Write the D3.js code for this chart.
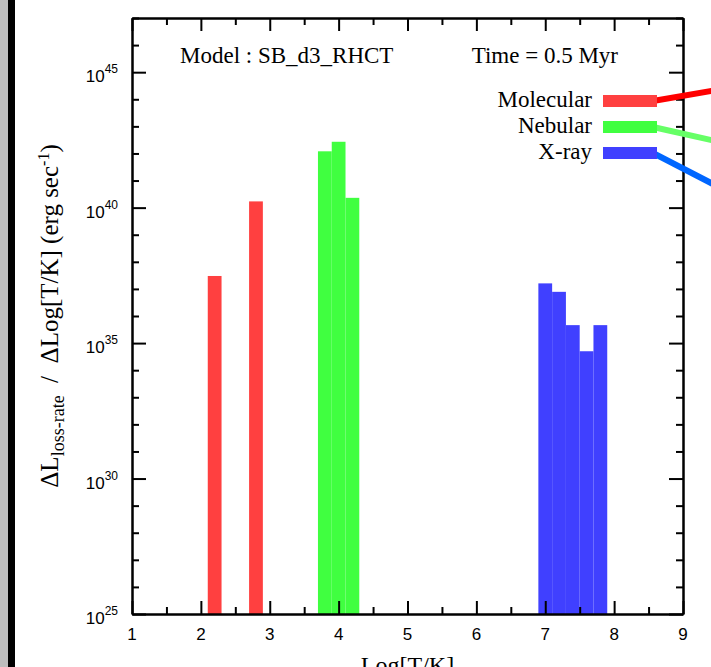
<!DOCTYPE html>
<html lang="en">

<head>
  <meta charset="UTF-8">
  <title>Loss rate histogram</title>
  <script src="https://d3js.org/d3.v7.min.js"></script>
  <style>
    body { margin: 0; background: #fff; }
    svg { display: block; }
  </style>
</head>

<body>
  <svg id='loss-rate' width=711 height=667></svg>

  <script>
    // data (bin centers in log T, height in erg/s)
    const molecularT = [2.2, 2.8];
    const molecularL = [3.0e37, 1.7e40];
    const nebularT = [3.8, 4.0, 4.2];
    const nebularL = [1.2e42, 2.7e42, 2.3e40];
    const xrayT = [7.0, 7.2, 7.4, 7.6, 7.8];
    const xrayL = [1.6e37, 7.8e36, 4.6e35, 5.0e34, 4.6e35];
    const binWidth = 0.2;

    const seriesNames = ['Molecular', 'Nebular', 'X-ray'];
    const seriesColors = ['#ff4040', '#40ff40', '#4040ff'];
    const connectorColors = ['#ff0000', '#66ff66', '#0066ff'];

    const xTicks = [1, 2, 3, 4, 5, 6, 7, 8, 9];
    const yMajorExp = [25, 30, 35, 40, 45];

    //setting up the svg
    const svg = d3.select('svg#loss-rate');
    const width = +svg.attr('width');
    const height = +svg.attr('height');
    const margin = { top: 18, right: 28, bottom: 53, left: 132 };
    const chartWidth = width - margin.left - margin.right;
    const chartHeight = height - margin.top - margin.bottom;

    // the grey/black strip down the left edge
    svg.append('rect').attr('x', 0).attr('y', 0).attr('width', 8).attr('height', height).attr('fill', '#bdbdbd');
    svg.append('rect').attr('x', 8).attr('y', 0).attr('width', 7).attr('height', height).attr('fill', '#000');

    const chartArea = svg.append('g')
      .attr('transform', 'translate(' + margin.left + ', ' + margin.top + ')');
    const annotations = svg.append('g').attr('id', 'annotations');

    //scales
    const xScale = d3.scaleLinear().domain([1, 9]).range([0, chartWidth]);
    const yScale = d3.scaleLog().domain([1e25, 1e47]).range([chartHeight, 0]);

    //bars
    const series = [
      { t: molecularT, l: molecularL },
      { t: nebularT, l: nebularL },
      { t: xrayT, l: xrayL }
    ];
    series.forEach((s, i) => {
      const rows = s.t.map((t, j) => ({ t: t, l: s.l[j] }));
      chartArea.append('g').selectAll('rect')
        .data(rows)
        .join('rect')
        .attr('x', d => xScale(d.t - binWidth / 2))
        .attr('width', d => xScale(d.t + binWidth / 2) - xScale(d.t - binWidth / 2))
        .attr('y', d => yScale(d.l))
        .attr('height', d => yScale(1e25) - yScale(d.l))
        .attr('fill', seriesColors[i]);
    });

    //axes, all ticks point inward
    const halfTicks = d3.range(1.5, 9, 1);
    const decadeTicks = d3.range(25, 48).filter(e => e % 5 != 0).map(e => Math.pow(10, e));
    const majorY = yMajorExp.map(e => Math.pow(10, e));

    function styleAxis(g) {
      g.selectAll('path').attr('stroke-width', 2);
      g.selectAll('line').attr('stroke-width', 2);
      g.selectAll('text').remove();
    }

    chartArea.append('g').attr('transform', 'translate(0,' + chartHeight + ')')
      .call(d3.axisBottom(xScale).tickValues(xTicks).tickSize(-13).tickSizeOuter(0)).call(styleAxis);
    chartArea.append('g').attr('transform', 'translate(0,' + chartHeight + ')')
      .call(d3.axisBottom(xScale).tickValues(halfTicks).tickSize(-7).tickSizeOuter(0)).call(styleAxis);
    chartArea.append('g')
      .call(d3.axisTop(xScale).tickValues(xTicks).tickSize(-13).tickSizeOuter(0)).call(styleAxis);
    chartArea.append('g')
      .call(d3.axisTop(xScale).tickValues(halfTicks).tickSize(-7).tickSizeOuter(0)).call(styleAxis);

    chartArea.append('g')
      .call(d3.axisLeft(yScale).tickValues(majorY).tickSize(-14).tickSizeOuter(0)).call(styleAxis);
    chartArea.append('g')
      .call(d3.axisLeft(yScale).tickValues(decadeTicks).tickSize(-7).tickSizeOuter(0)).call(styleAxis);
    chartArea.append('g').attr('transform', 'translate(' + chartWidth + ',0)')
      .call(d3.axisRight(yScale).tickValues(majorY).tickSize(-14).tickSizeOuter(0)).call(styleAxis);
    chartArea.append('g').attr('transform', 'translate(' + chartWidth + ',0)')
      .call(d3.axisRight(yScale).tickValues(decadeTicks).tickSize(-7).tickSizeOuter(0)).call(styleAxis);

    //tick labels
    chartArea.append('g').selectAll('text')
      .data(xTicks)
      .join('text')
      .attr('x', d => xScale(d))
      .attr('y', chartHeight + 26)
      .attr('text-anchor', 'middle')
      .style('font-family', 'Liberation Sans, Arial, sans-serif')
      .style('font-size', '17px')
      .text(d => d);

    const yLabels = chartArea.append('g').selectAll('text')
      .data(yMajorExp)
      .join('text')
      .attr('x', -14)
      .attr('y', d => yScale(Math.pow(10, d)) + 10)
      .attr('text-anchor', 'end')
      .style('font-family', 'Liberation Sans, Arial, sans-serif')
      .style('font-size', '17px');
    yLabels.append('tspan').text('10');
    yLabels.append('tspan').attr('dy', -9).style('font-size', '12px').text(d => d);

    //axis titles
    annotations.append('text')
      .attr('x', margin.left + chartWidth / 2)
      .attr('y', height + 6)
      .attr('text-anchor', 'middle')
      .style('font-family', 'Liberation Serif, Times New Roman, serif')
      .style('font-size', '24px')
      .text('Log[T/K]');

    const yTitle = annotations.append('text')
      .attr('transform', 'translate(58,' + (margin.top + chartHeight / 2) + ') rotate(-90)')
      .attr('text-anchor', 'middle')
      .style('font-family', 'Liberation Serif, Times New Roman, serif')
      .style('font-size', '25px');
    yTitle.append('tspan').text('\u0394L');
    yTitle.append('tspan').attr('dy', 6).style('font-size', '18px').text('loss-rate');
    yTitle.append('tspan').attr('dy', -6).text('\u00a0\u00a0/\u00a0\u00a0\u0394Log[T/K] (erg sec');
    yTitle.append('tspan').attr('dy', -9).style('font-size', '16px').text('-1');
    yTitle.append('tspan').attr('dy', 9).text(')');

    //model / time labels
    annotations.append('text')
      .attr('x', 180).attr('y', 63)
      .style('font-family', 'Liberation Serif, Times New Roman, serif')
      .style('font-size', '23px')
      .text('Model : SB_d3_RHCT');
    annotations.append('text')
      .attr('x', 618).attr('y', 63)
      .attr('text-anchor', 'end')
      .style('font-family', 'Liberation Serif, Times New Roman, serif')
      .style('font-size', '23px')
      .text('Time = 0.5 Myr');

    //legend
    const legend = annotations.append('g').attr('transform', 'translate(603, 95)');
    seriesNames.forEach((name, i) => {
      const row = legend.append('g').attr('transform', 'translate(0,' + (i * 26) + ')');
      // connector line running off the right side
      const drop = [-10, 13, 30][i];
      row.append('line')
        .attr('x1', 50).attr('y1', 6)
        .attr('x2', 120).attr('y2', 6 + drop * 70 / 58)
        .attr('stroke', connectorColors[i])
        .attr('stroke-width', 6);
      row.append('rect')
        .attr('x', 0).attr('y', 0)
        .attr('width', 54).attr('height', 12)
        .attr('fill', seriesColors[i]);
      row.append('text')
        .attr('x', -11).attr('y', 12)
        .attr('text-anchor', 'end')
        .style('font-family', 'Liberation Serif, Times New Roman, serif')
        .style('font-size', '23px')
        .text(name);
    });
  </script>
</body>

</html>
